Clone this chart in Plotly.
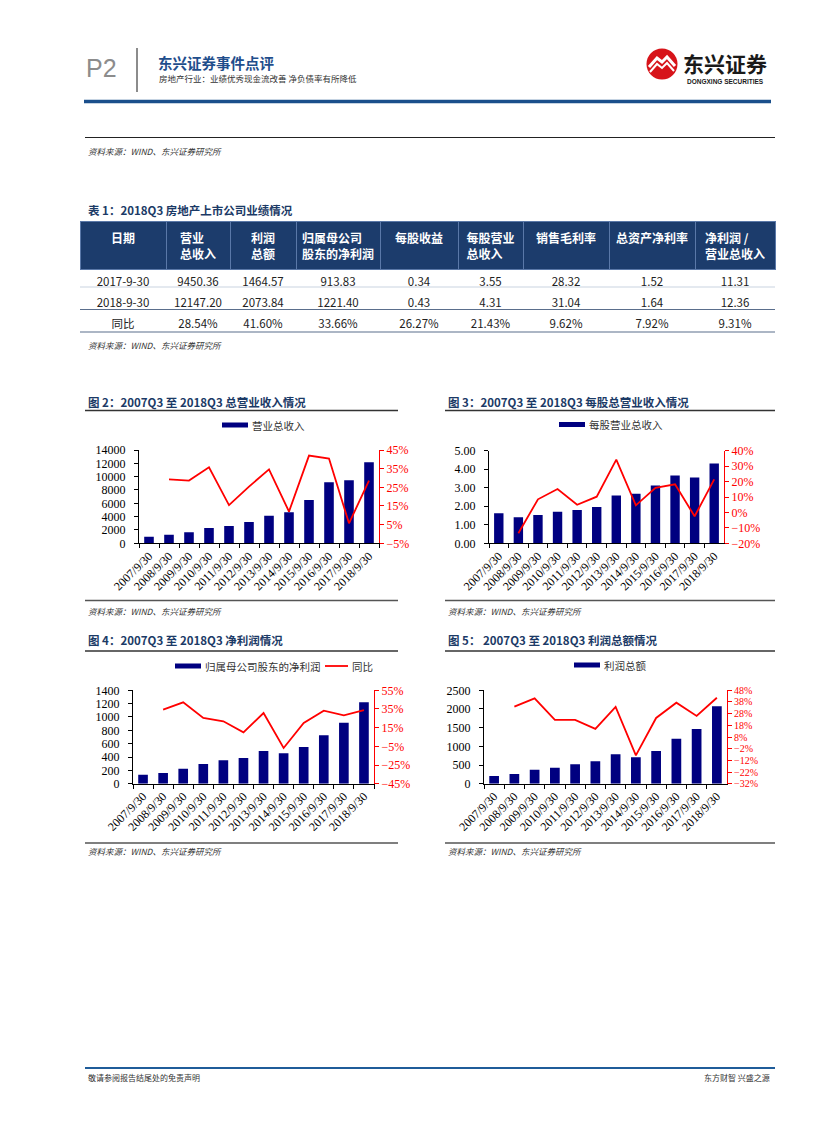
import plotly.graph_objects as go

# page offset: the browser adds an 8px body margin
OFF = 8
W, H = 827 - OFF, 1122 - OFF
def X(p): return (p - OFF) / W
def Y(p): return 1 - (p - OFF) / H

# ---------------- data ----------------
years = ["2007/9/30", "2008/9/30", "2009/9/30", "2010/9/30", "2011/9/30", "2012/9/30",
         "2013/9/30", "2014/9/30", "2015/9/30", "2016/9/30", "2017/9/30", "2018/9/30"]

revenue = [1000, 1300, 1650, 2300, 2600, 3200, 4150, 4650, 6500, 9150, 9450.36, 12147.20]
revenue_yoy = [None, 29.3, 28.6, 35.7, 15.5, 25.4, 34.6, 12.0, 42.0, 40.4, 5.7, 28.54]

rev_per_share = [1.62, 1.40, 1.53, 1.70, 1.80, 1.96, 2.58, 2.68, 3.12, 3.66, 3.55, 4.31]
rev_per_share_yoy = [None, -13.5, 8.5, 15.2, 5.0, 10.2, 34.2, 4.6, 16.0, 18.2, -2.5, 21.43]

net_profit = [135, 160, 225, 295, 350, 385, 490, 455, 550, 725, 913.83, 1221.40]
net_profit_yoy = [None, 34.3, 42.1, 25.4, 21.8, 10.0, 30.7, -6.8, 20.0, 33.2, 28.2, 33.66]

total_profit = [205, 260, 375, 430, 520, 600, 785, 705, 875, 1205, 1464.57, 2073.84]
total_profit_yoy = [None, 34.0, 41.1, 22.6, 22.6, 14.9, 33.7, -7.7, 24.3, 37.4, 26.0, 41.60]

table_header = ["日期", "营业<br>总收入", "利润<br>总额", "归属母公司<br>股东的净利润", "每股收益",
                "每股营业<br>总收入", "销售毛利率", "总资产净利率", "净利润 /<br>营业总收入"]
tbl_date = ["2017-9-30", "2018-9-30", "同比"]
tbl_rev = ["9450.36", "12147.20", "28.54%"]
tbl_profit = ["1464.57", "2073.84", "41.60%"]
tbl_np = ["913.83", "1221.40", "33.66%"]
tbl_eps = ["0.34", "0.43", "26.27%"]
tbl_rps = ["3.55", "4.31", "21.43%"]
tbl_gm = ["28.32", "31.04", "9.62%"]
tbl_roa = ["1.52", "1.64", "7.92%"]
tbl_nm = ["11.31", "12.36", "9.31%"]

# ---------------- style ----------------
CJK = "Noto Sans CJK SC"
SERIF = "Liberation Serif"
NAVY = "#000080"
TITLE_C = "#1B3A66"
RED = "#FF0000"

fig = go.Figure()
layout = dict(width=W, height=H, autosize=False, margin=dict(l=0, r=0, t=0, b=0),
              paper_bgcolor="white", plot_bgcolor="white", showlegend=False,
              font=dict(family=CJK, color="#222"))

charts = [
    dict(bars=revenue, line=revenue_yoy, xd=(139, 379), yd=(450, 543.3),
         lrange=[0, 14000], ldtick=2000, lfmt="d", rrange=[-5, 45], rtick0=-5, rdtick=10, rfs=12),
    dict(bars=rev_per_share, line=rev_per_share_yoy, xd=(489, 724), yd=(450.7, 543.3),
         lrange=[0, 5], ldtick=1, lfmt=".2f", rrange=[-20, 40], rtick0=-20, rdtick=10, rfs=12),
    dict(bars=net_profit, line=net_profit_yoy, xd=(133, 374), yd=(690.3, 783.7),
         lrange=[0, 1400], ldtick=200, lfmt="d", rrange=[-45, 55], rtick0=-45, rdtick=20, rfs=12),
    dict(bars=total_profit, line=total_profit_yoy, xd=(484, 727), yd=(690.3, 783.7),
         lrange=[0, 2500], ldtick=500, lfmt="d", rrange=[-32, 48], rtick0=-32, rdtick=10, rfs=10),
]

for i, c in enumerate(charts):
    xn = "x" if i == 0 else f"x{i+1}"
    yl = 2 * i + 1
    yr = 2 * i + 2
    yln = "y" if yl == 1 else f"y{yl}"
    yrn = f"y{yr}"
    fig.add_trace(go.Bar(x=years, y=c["bars"], xaxis=xn, yaxis=yln,
                         marker=dict(color=NAVY, line=dict(width=0)), width=0.48))
    fig.add_trace(go.Scatter(x=years, y=c["line"], xaxis=xn, yaxis=yrn, mode="lines",
                             line=dict(color=RED, width=1.8), connectgaps=False))
    xkey = "xaxis" if i == 0 else f"xaxis{i+1}"
    ylkey = "yaxis" if yl == 1 else f"yaxis{yl}"
    yrkey = f"yaxis{yr}"
    layout[xkey] = dict(domain=[X(c["xd"][0]), X(c["xd"][1])], anchor=yln, type="category",
                        showline=True, linecolor="#000", linewidth=1, ticks="outside",
                        tickson="boundaries", ticklen=4, tickcolor="#000", tickangle=-45,
                        tickfont=dict(family=SERIF, size=12, color="#000"),
                        showgrid=False, automargin=False, fixedrange=True)
    layout[ylkey] = dict(domain=[Y(c["yd"][1]), Y(c["yd"][0])], anchor=xn,
                         range=c["lrange"], dtick=c["ldtick"], tick0=0, tickformat=c["lfmt"],
                         showline=True, linecolor="#000", linewidth=1, ticks="outside",
                         ticklen=4, tickcolor="#000", showgrid=False, zeroline=False,
                         tickfont=dict(family=SERIF, size=12, color="#000"),
                         ticklabelstandoff=6, automargin=False, fixedrange=True)
    layout[yrkey] = dict(overlaying=yln, side="right", anchor=xn,
                         range=c["rrange"], tick0=c["rtick0"], dtick=c["rdtick"], ticksuffix="%",
                         showline=True, linecolor=RED, linewidth=1.2, ticks="outside",
                         ticklen=4, tickcolor=RED, showgrid=False, zeroline=False,
                         tickfont=dict(family=SERIF, size=c["rfs"], color=RED),
                         automargin=False, fixedrange=True)

# ---------------- table ----------------
fig.add_trace(go.Table(
    domain=dict(x=[X(80), X(775)], y=[Y(337), Y(221)]),
    columnwidth=[86, 64, 66, 84, 78, 65, 86, 86, 80],
    header=dict(values=[f"<b>{h}</b>" for h in table_header], fill_color="#1C3C6C",
                line=dict(color="#5A78A8", width=1), align="center", height=44,
                font=dict(family=CJK, size=12, color="white")),
    cells=dict(values=[tbl_date, tbl_rev, tbl_profit, tbl_np, tbl_eps, tbl_rps, tbl_gm, tbl_roa, tbl_nm],
               fill_color="white", line=dict(color="white", width=1), align="center", height=21,
               font=dict(family=CJK, size=11.5, color="#222")),
))

shapes = []
annotations = []

def hline(y, x0, x1, color, width):
    shapes.append(dict(type="line", xref="paper", yref="paper", x0=X(x0), x1=X(x1),
                       y0=Y(y), y1=Y(y), line=dict(color=color, width=width)))

def text(x, y, s, size, color="#222", bold=False, italic=False, anchor="left", family=CJK):
    if bold:
        s = f"<b>{s}</b>"
    if italic:
        s = f"<i>{s}</i>"
    annotations.append(dict(xref="paper", yref="paper", x=X(x), y=Y(y), text=s, showarrow=False,
                            xanchor=anchor, yanchor="middle",
                            font=dict(family=family, size=size, color=color)))

# header
text(84, 68, "P2", 25, color="#8C8C8C", family="Liberation Sans Narrow, Liberation Sans")
shapes.append(dict(type="line", xref="paper", yref="paper", x0=X(137), x1=X(137), y0=Y(48), y1=Y(92),
                   line=dict(color="#8C8C8C", width=2)))
text(156, 62, "东兴证券事件点评", 14.5, color="#1F4E8C", bold=True)
text(157, 78, "房地产行业：业绩优秀现金流改善 净负债率有所降低", 8.5, color="#333")
# logo
shapes.append(dict(type="circle", xref="paper", yref="paper", x0=X(646.5), x1=X(677.5),
                   y0=Y(79.5), y1=Y(48.5), fillcolor="#D7141A", line=dict(width=0)))
shapes.append(dict(type="path", xref="paper", yref="paper",
                   path=f"M {X(649)},{Y(67)} L {X(657)},{Y(58)} L {X(662)},{Y(62)} L {X(667)},{Y(57)} L {X(675)},{Y(66)}",
                   line=dict(color="white", width=3)))
shapes.append(dict(type="path", xref="paper", yref="paper",
                   path=f"M {X(650)},{Y(72)} L {X(657)},{Y(64)} L {X(662)},{Y(68)} L {X(667)},{Y(63)} L {X(674)},{Y(71)}",
                   line=dict(color="white", width=2)))
text(725, 63, "东兴证券", 21, color="#1A1A1A", bold=True, anchor="center")
text(725, 82, "<b>DONGXING SECURITIES</b>", 6.5, color="#1A1A1A", anchor="center",
     family="Liberation Sans")
hline(101.5, 84, 771, "#1A4F8B", 3.5)

hline(137.5, 85, 775, "#222", 1)
text(86, 151, "资料来源：WIND、东兴证券研究所", 8.5, color="#333", italic=True)

# table title & source
text(86, 210, "表 1：2018Q3 房地产上市公司业绩情况", 11.5, color=TITLE_C, bold=True)
hline(287, 80, 775, "#C9D3E0", 1)
hline(309.5, 80, 775, "#5A6E8C", 1)
hline(332, 80, 775, "#5A6E8C", 1.2)
text(86, 345, "资料来源：WIND、东兴证券研究所", 8.5, color="#333", italic=True)

# chart sections
sections = [
    (85, 398, 402, 410.5, 600.5, 611, "图 2：2007Q3 至 2018Q3 总营业收入情况"),
    (445, 775, 402, 410.5, 600.5, 611, "图 3：2007Q3 至 2018Q3 每股总营业收入情况"),
    (85, 398, 640, 651, 843, 851, "图 4：2007Q3 至 2018Q3 净利润情况"),
    (445, 775, 640, 651, 843, 851, "图 5： 2007Q3 至 2018Q3 利润总额情况"),
]
for x0, x1, ty, l1, l2, sy, title in sections:
    text(x0 + 1, ty, title, 11.5, color=TITLE_C, bold=True)
    hline(l1, x0, x1, "#333", 1.5)
    hline(l2, x0, x1, "#555", 1.5)
    text(x0 + 1, sy, "资料来源：WIND、东兴证券研究所", 8.5, color="#333", italic=True)

# legends
def bar_legend(x0, y, label):
    shapes.append(dict(type="rect", xref="paper", yref="paper", x0=X(x0), x1=X(x0 + 26),
                       y0=Y(y + 2.5), y1=Y(y - 2.5), fillcolor=NAVY, line=dict(width=0)))
    text(x0 + 28, y, label, 10.5, color="#333")

bar_legend(222, 425, "营业总收入")
bar_legend(559, 424.5, "每股营业总收入")
bar_legend(175, 666, "归属母公司股东的净利润")
shapes.append(dict(type="line", xref="paper", yref="paper", x0=X(325), x1=X(348),
                   y0=Y(666), y1=Y(666), line=dict(color=RED, width=1.8)))
text(350, 666, "同比", 10.5, color="#333")
bar_legend(574, 665, "利润总额")

# footer
hline(1068, 85, 775, "#1F5C99", 2)
text(86, 1077, "敬请参阅报告结尾处的免责声明", 8, color="#333")
text(772, 1077, "东方财智 兴盛之源", 8, color="#333", anchor="right")

layout["shapes"] = shapes
layout["annotations"] = annotations
fig.update_layout(**layout)
fig.write_html("out.html")
